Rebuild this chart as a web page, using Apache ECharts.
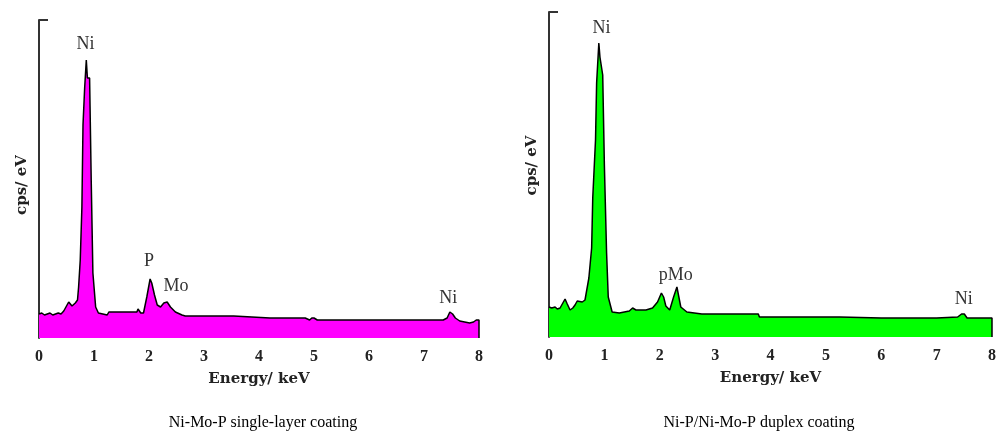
<!DOCTYPE html>
<html>
<head>
<meta charset="utf-8">
<script src="https://cdn.jsdelivr.net/npm/echarts@6/dist/echarts.min.js"></script>
<style>
  html, body { margin: 0; padding: 0; background: #fff; }
  #vis { width: 999px; height: 441px; }
</style>
</head>
<body>
<div id="vis"></div>
<script>
// left spectrum: Ni-Mo-P single-layer coating
const leftEnergy = [0, 0.05, 0.1, 0.15, 0.2, 0.25, 0.3, 0.35, 0.4, 0.45,
  0.5, 0.54, 0.6, 0.66, 0.7, 0.72, 0.75, 0.78, 0.8, 0.83,
  0.86, 0.88, 0.92, 0.95, 0.98, 1.03, 1.08, 1.24, 1.27, 1.5,
  1.78, 1.8, 1.85, 1.9, 1.96, 2.02, 2.05, 2.1, 2.15, 2.21,
  2.27, 2.33, 2.39, 2.48, 2.6, 2.66, 3.0, 3.54, 3.57, 4.2,
  4.84, 4.87, 4.92, 4.96, 5.0, 5.03, 5.06, 5.5, 6.0, 6.5,
  7.0, 7.35, 7.42, 7.47, 7.52, 7.57, 7.65, 7.74, 7.77, 7.83,
  7.9, 7.95, 8.0, 8.0];
const leftCounts = [24, 25, 23, 24, 25, 23, 24, 25, 24, 27,
  32, 36, 32, 35, 38, 51, 78, 131, 213, 250,
  278, 260, 260, 156, 65, 31, 25, 23, 26, 26,
  26, 29, 25, 25, 41, 59, 55, 43, 33, 31,
  35, 36, 31, 26, 23, 22, 22, 22, 20, 20,
  20, 18, 18, 20, 20, 18, 18, 18, 18, 18,
  18, 18, 20, 26, 24, 20, 17, 16, 18, 15,
  16, 18, 18, 0];
const leftPeakNames = ['Ni', 'P', 'Mo', 'Ni'];
const leftPeakEnergy = [0.845, 2.0, 2.49, 7.44];
const leftPeakHeight = [294, 77, 52, 40];

// right spectrum: Ni-P/Ni-Mo-P duplex coating
const rightEnergy = [0, 0.05, 0.11, 0.15, 0.2, 0.25, 0.29, 0.33, 0.38, 0.43,
  0.47, 0.51, 0.54, 0.6, 0.65, 0.68, 0.72, 0.77, 0.79, 0.84,
  0.86, 0.9, 0.92, 0.97, 1.0, 1.04, 1.07, 1.14, 1.27, 1.45,
  1.51, 1.57, 1.75, 1.87, 1.96, 2.03, 2.07, 2.11, 2.18, 2.25,
  2.31, 2.38, 2.49, 2.76, 3.0, 3.5, 3.78, 3.8, 4.5, 5.12,
  5.15, 5.18, 5.21, 5.25, 5.27, 6.0, 7.0, 7.38, 7.45, 7.5,
  7.55, 7.7, 7.96, 8.0, 8.0];
const rightCounts = [30, 29, 30, 28, 29, 34, 38, 33, 27, 29,
  32, 36, 38, 35, 37, 39, 59, 89, 139, 197,
  254, 294, 280, 262, 172, 84, 40, 25, 24, 26,
  29, 27, 27, 29, 35, 44, 40, 31, 27, 40,
  50, 30, 25, 23, 23, 23, 23, 20, 20, 20,
  18, 20, 18, 20, 19, 19, 19, 20, 23, 23,
  19, 19, 19, 19, 0];
const rightPeakNames = ['Ni', 'pMo', 'Ni'];
const rightPeakEnergy = [0.95, 2.29, 7.49];
const rightPeakHeight = [309, 62, 38];

const energyTicks = [0, 1, 2, 3, 4, 5, 6, 7, 8];
const captions = ['Ni-Mo-P single-layer coating', 'Ni-P/Ni-Mo-P duplex coating'];

const serif = '"Liberation Serif", "DejaVu Serif", serif';
const wideSerif = '"DejaVu Serif", "Liberation Serif", serif';

function zip(xs, ys) {
  return xs.map((x, i) => [x, ys[i]]);
}

function peakMarks(names, es, hs) {
  return names.map((n, i) => ({ name: n, coord: [es[i], hs[i]] }));
}

function makeX(idx) {
  return {
    type: 'value', gridIndex: idx, min: energyTicks[0], max: energyTicks[energyTicks.length - 1], interval: 1,
    axisLine: { show: false }, axisTick: { show: false }, splitLine: { show: false },
    axisLabel: { fontFamily: serif, fontWeight: 'bold', fontSize: 16, color: '#222', margin: 11 },
    name: 'Energy/ keV', nameLocation: 'middle', nameGap: 34,
    nameTextStyle: { fontFamily: wideSerif, fontWeight: 'bold', fontSize: 15, color: '#222' }
  };
}

function makeY(idx, max, pad) {
  return {
    type: 'value', gridIndex: idx, min: 0, max: max,
    axisLine: { show: true, lineStyle: { color: '#333', width: 2 } },
    axisTick: { show: true, inside: true, length: 9, customValues: [max], lineStyle: { color: '#333', width: 2 } },
    axisLabel: { show: false }, splitLine: { show: false },
    name: 'cps/ eV', nameLocation: 'middle', nameGap: 9, nameRotate: 90,
    nameTextStyle: { fontFamily: wideSerif, fontWeight: 'bold', fontSize: 15, color: '#222', padding: pad }
  };
}

function makeSeries(idx, data, fill, marks) {
  return {
    type: 'line', xAxisIndex: idx, yAxisIndex: idx, data: data,
    symbol: 'none', smooth: false,
    lineStyle: { color: '#000', width: 1.5 },
    areaStyle: { color: fill, opacity: 1 },
    markPoint: {
      symbol: 'rect', symbolSize: 1, itemStyle: { color: 'rgba(0,0,0,0)' },
      label: { show: true, position: 'inside', formatter: '{b}', fontFamily: serif, fontSize: 18, color: '#333' },
      data: marks
    }
  };
}

const chart = echarts.init(document.getElementById('vis'), null, { renderer: 'canvas' });
chart.setOption({
  animation: false,
  backgroundColor: '#fff',
  title: [
    { text: captions[0], left: 258, top: 410, textAlign: 'center',
      textStyle: { fontFamily: serif, fontWeight: 'normal', fontSize: 16, color: '#000' } },
    { text: captions[1], left: 754, top: 410, textAlign: 'center',
      textStyle: { fontFamily: serif, fontWeight: 'normal', fontSize: 16, color: '#000' } }
  ],
  grid: [
    { left: 39, top: 20, width: 440, height: 318 },
    { left: 549, top: 12, width: 447, height: 325 }
  ],
  xAxis: [makeX(0), makeX(1)],
  yAxis: [makeY(0, 318, [0, 12, 0, 0]), makeY(1, 325, [0, 0, 0, 18])],
  series: [
    makeSeries(0, zip(leftEnergy, leftCounts), '#ff00ff', peakMarks(leftPeakNames, leftPeakEnergy, leftPeakHeight)),
    makeSeries(1, zip(rightEnergy, rightCounts), '#00ff00', peakMarks(rightPeakNames, rightPeakEnergy, rightPeakHeight))
  ]
});
</script>
</body>
</html>
